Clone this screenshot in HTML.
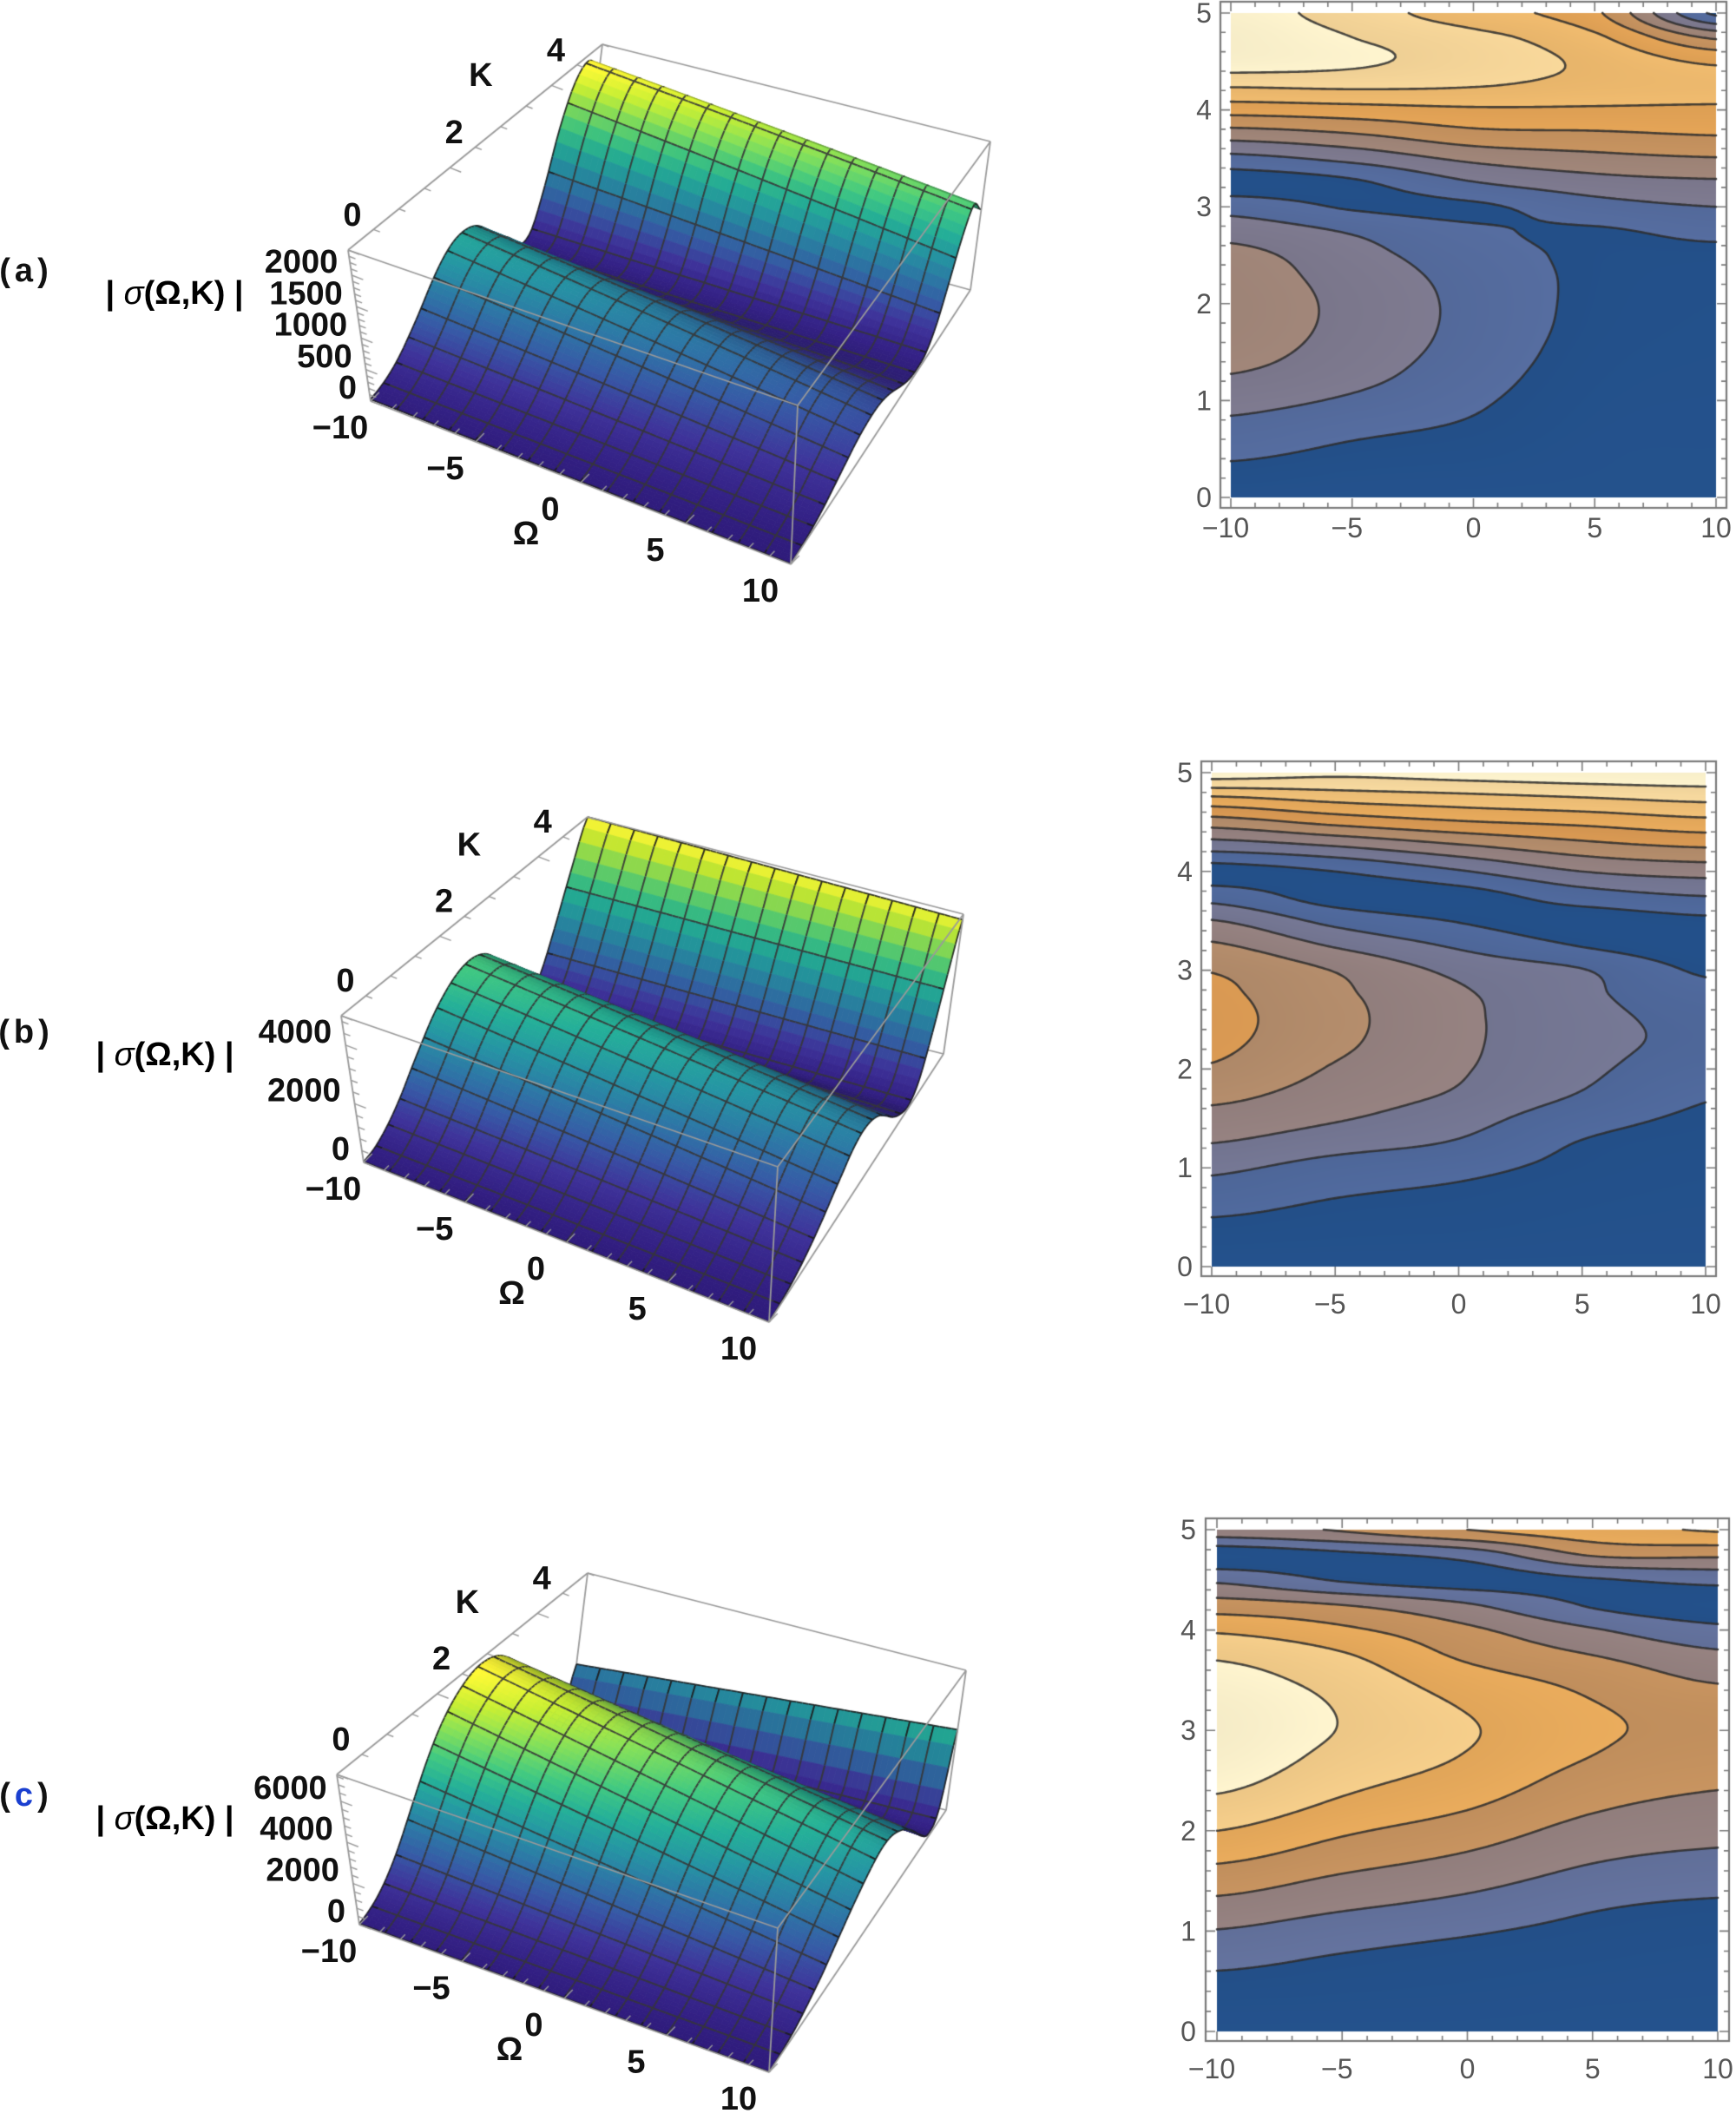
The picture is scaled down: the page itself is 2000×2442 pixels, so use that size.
<!DOCTYPE html>
<html><head><meta charset="utf-8"><title>sigma surfaces and contours</title>
<style>
html,body{margin:0;padding:0;background:#fff;}
#wrap{position:relative;width:2000px;height:2442px;overflow:hidden;background:#fff;}
canvas,svg{position:absolute;left:0;top:0;}
svg text{font-family:"Liberation Sans",Arial,sans-serif;}
</style></head>
<body>
<div id="wrap">
<canvas id="cv" width="2000" height="2442"></canvas>
<svg id="sv" width="2000" height="2442">
 <text x="30" y="312" font-size="38" font-weight="bold" dominant-baseline="central" text-anchor="middle" letter-spacing="5" fill="#111">(a)</text>
 <text x="30" y="1189" font-size="38" font-weight="bold" dominant-baseline="central" text-anchor="middle" letter-spacing="5" fill="#111">(b)</text>
 <text x="30" y="2068" font-size="38" font-weight="bold" dominant-baseline="central" text-anchor="middle" letter-spacing="5" fill="#111">(<tspan fill="#1a3fd0">c</tspan>)</text>
 <text x="201" y="338" font-size="38" font-weight="bold" dominant-baseline="central" text-anchor="middle">| <tspan font-style="italic" font-weight="normal">σ</tspan>(Ω,K) |</text>
 <text x="190" y="1215" font-size="38" font-weight="bold" dominant-baseline="central" text-anchor="middle">| <tspan font-style="italic" font-weight="normal">σ</tspan>(Ω,K) |</text>
 <text x="190" y="2095" font-size="38" font-weight="bold" dominant-baseline="central" text-anchor="middle">| <tspan font-style="italic" font-weight="normal">σ</tspan>(Ω,K) |</text>
 <g id="lbl"></g>
</svg>
</div>
<script>
// ---------- data ----------
const kSamples = [0,0.25,0.5,0.75,1,1.25,1.5,1.75,2,2.25,2.5,2.75,3,3.25,3.5,3.75,4,4.25,4.5,4.75,5];
// 3D surface profiles |sigma| at Omega=-10 and Omega=10
const surfA_left  = [30,60,130,250,420,620,850,1050,1180,1200,1100,850,500,200,60,150,700,1500,2100,2300,2000];
const surfA_right = [10,20,40,80,140,220,300,380,430,450,420,330,200,90,50,100,350,800,1300,1600,1300];
const surfB_left  = [30,100,300,600,1000,1500,2000,2500,2900,3200,3350,3300,3000,2400,1500,600,150,600,1800,3400,5000];
const surfB_right = [10,40,100,200,350,550,800,1100,1400,1700,1850,1800,1550,1100,600,250,100,500,1700,3300,4800];
const surfC_left  = [50,200,500,1000,1700,2600,3600,4600,5500,6200,6700,7000,7000,6700,6000,5000,3800,2300,900,150,2600];
const surfC_right = [20,60,150,300,550,850,1200,1650,2100,2550,2950,3300,3500,3400,3000,2400,1600,700,150,800,4200];
// contour values (in contour-level units) at Omega = -10, -5, 0, 5, 10
const contOmegas = [-10,-5,0,5,10];
const contA_m10 = [0.2,0.7,1.3,1.8,2.35,2.95,3.35,3.55,3.6,3.5,3.3,2.6,1.6,0.5,1.7,3.5,5.4,7.1,8.6,8.8,8.5];
const contA_m5  = [0.1,0.4,0.85,1.3,1.85,2.3,2.55,2.7,2.72,2.6,2.35,1.9,0.9,0.85,2.3,3.95,5.6,7.2,8.2,8.0,7.5];
const contA_0   = [0.1,0.3,0.6,0.9,1.15,1.4,1.6,1.7,1.72,1.65,1.45,1.15,0.85,1.95,3.25,4.7,5.85,7.05,7.5,7.3,6.4];
const contA_5   = [0.1,0.15,0.2,0.3,0.4,0.5,0.6,0.7,0.75,0.78,0.8,0.9,1.6,2.6,3.7,4.85,5.85,6.7,6.8,6.2,5.2];
const contA_10  = [0.1,0.12,0.15,0.2,0.25,0.3,0.35,0.4,0.45,0.5,0.7,1.3,2.0,2.85,3.95,5.05,5.8,6.5,5.8,3.8,0.8];
const contB_m10 = [0.1,0.5,1.0,1.6,2.2,3.0,3.65,4.3,4.9,5.2,5.3,5.2,4.95,4.15,3.05,1.6,0.6,2.4,4.5,6.9,9.5];
const contB_m5  = [0.1,0.4,0.7,1.1,1.6,2.4,3.1,3.55,3.9,4.2,4.3,4.2,3.95,2.9,1.7,0.6,1.0,2.95,5.3,7.4,9.2];
const contB_0   = [0.1,0.35,0.6,0.85,1.25,1.9,2.4,2.9,3.1,3.2,3.22,3.15,2.75,1.85,0.95,0.6,1.9,3.8,5.9,7.7,9.4];
const contB_5   = [0.1,0.25,0.4,0.55,0.75,0.95,1.4,1.95,2.2,2.3,2.3,2.2,2.05,0.95,0.55,1.5,3.0,4.6,6.25,8.0,9.6];
const contB_10  = [0.1,0.2,0.3,0.4,0.5,0.65,0.85,1.1,1.5,1.8,1.75,1.4,0.85,0.45,0.8,2.0,3.4,5.05,6.7,8.3,9.7];
const contC_m10 = [0.1,0.35,0.8,1.3,1.95,2.7,3.45,4.25,5.0,5.7,6.3,6.7,6.9,6.8,6.4,5.85,4.85,3.45,1.8,0.4,2.6];
const contC_m5  = [0.1,0.3,0.6,0.95,1.45,2.15,2.8,3.5,4.15,4.8,5.3,5.7,5.95,5.9,5.6,5.1,4.2,3.0,0.9,0.8,3.1];
const contC_0   = [0.1,0.25,0.45,0.7,1.1,1.7,2.3,2.9,3.5,4.1,4.6,4.95,5.1,4.9,4.45,3.8,3.2,2.1,0.55,1.4,4.0];
const contC_5   = [0.05,0.15,0.3,0.5,0.75,1.1,1.65,2.15,2.65,3.15,3.6,4.0,4.15,4.05,3.7,3.0,2.1,0.9,0.9,3.1,4.6];
const contC_10  = [0.05,0.12,0.2,0.35,0.55,0.85,1.35,1.85,2.3,2.75,3.15,3.55,3.8,3.6,2.9,2.2,1.25,0.4,1.3,3.2,5.1];
const zTicksA = [0,500,1000,1500,2000];
const zTicksB = [0,2000,4000];
const zTicksC = [0,2000,4000,6000];
const omegaTicks = [-10,-5,0,5,10];
const kTicks3d = [0,2,4];
const kTicksContour = [0,1,2,3,4,5];

// ---------- helpers ----------
const cv=document.getElementById('cv'); const ctx=cv.getContext('2d');
ctx.fillStyle='#fff'; ctx.fillRect(0,0,2000,2442);
const SVGNS='http://www.w3.org/2000/svg';
const lbl=document.getElementById('lbl');
function addText(x,y,str,opt,name){
  const t=document.createElementNS(SVGNS,'text');
  t.setAttribute('x',x); t.setAttribute('y',y);
  t.setAttribute('font-size',opt.size); if(opt.bold) t.setAttribute('font-weight','bold');
  t.setAttribute('fill',opt.fill||'#111'); t.setAttribute('text-anchor',opt.anchor||'middle');
  t.setAttribute('dominant-baseline','central');
  
  
  t.textContent=str; lbl.appendChild(t);
}
function crStep(arr,x){
  let i=Math.floor(x);
  if(i>=arr.length-1) return arr[arr.length-1]; if(i<0) return arr[0];
  const t=x-i;
  const p0=arr[Math.max(i-1,0)],p1=arr[i],p2=arr[i+1],p3=arr[Math.min(i+2,arr.length-1)];
  return 0.5*((2*p1)+(-p0+p2)*t+(2*p0-5*p1+4*p2-p3)*t*t+(-p0+3*p1-3*p2+p3)*t*t*t);
}
function cr(arr,K){ const step=kSamples[1]-kSamples[0]; return crStep(arr,(K-kSamples[0])/step); }
function hex(c){return [parseInt(c.substr(1,2),16),parseInt(c.substr(3,2),16),parseInt(c.substr(5,2),16)];}
function ramp(stops,t){
  t=Math.max(0,Math.min(1,t)); const n=stops.length-1; const f=t*n; let i=Math.floor(f); if(i>=n)i=n-1;
  const a=hex(stops[i]),b=hex(stops[i+1]),s=f-i;
  return [a[0]+(b[0]-a[0])*s,a[1]+(b[1]-a[1])*s,a[2]+(b[2]-a[2])*s];
}
const viridis=['#2d1a76','#3a2f8f','#33539a','#2a6f9a','#238a98','#22a38e','#3dbb78','#78cf55','#bade30','#f4e932'];
const contourPal=['#24528d','#5d71a3','#8a7e8a','#b08c70','#e09c50','#efb463','#f8d493','#fff5cf'];

// ---------- contour plots ----------
function drawContour(cfg){
  const {x0,x1,yT,yB,cols,nb}=cfg;
  const W=Math.round(x1-x0), H=Math.round(yB-yT);
  const oStep=contOmegas[1]-contOmegas[0];
  const val=(Om,K)=>{
    const colVals=cols.map(c=>cr(c,K));
    return crStep(colVals,(Om-contOmegas[0])/oStep);
  };
  const img=ctx.createImageData(W,H);
  const bandCol=[]; for(let b=0;b<nb;b++) bandCol.push(ramp(contourPal,b/(nb-1)));
  for(let py=0;py<H;py++){
    const K=5*(1-(py+0.5)/H);
    const colVals=cols.map(c=>cr(c,K));
    for(let px=0;px<W;px++){
      const Om=-10+20*(px+0.5)/W;
      const v=crStep(colVals,(Om-contOmegas[0])/oStep); let b=Math.floor(v); b=Math.max(0,Math.min(nb-1,b));
      const c=bandCol[b]; const frac=Math.max(0,Math.min(1,v-b));
      const sh=1.0-0.04*frac;
      const o=(py*W+px)*4; img.data[o]=c[0]*sh; img.data[o+1]=c[1]*sh; img.data[o+2]=c[2]*sh; img.data[o+3]=255;
    }
  }
  ctx.putImageData(img,Math.round(x0),Math.round(yT));
  const g=3; const nx=Math.ceil(W/g), ny=Math.ceil(H/g);
  const grid=[]; for(let j=0;j<=ny;j++){const r=[];for(let i=0;i<=nx;i++){const px=Math.min(i*g,W),py=Math.min(j*g,H);r.push(val(-10+20*px/W,5*(1-py/H)));}grid.push(r);}
  ctx.save(); ctx.strokeStyle='rgba(45,45,45,0.85)'; ctx.lineWidth=2.6; ctx.lineCap='round';
  for(let lev=1;lev<nb;lev++){
    ctx.beginPath();
    for(let j=0;j<ny;j++)for(let i=0;i<nx;i++){
      const xa=x0+Math.min(i*g,W), xb=x0+Math.min((i+1)*g,W), ya=yT+Math.min(j*g,H), yb=yT+Math.min((j+1)*g,H);
      const v0=grid[j][i],v1=grid[j][i+1],v2=grid[j+1][i+1],v3=grid[j+1][i];
      const pts=[];
      const e=(va,vb,pa,pb)=>{ if((va<lev)!==(vb<lev)){const t=(lev-va)/(vb-va); pts.push([pa[0]+(pb[0]-pa[0])*t,pa[1]+(pb[1]-pa[1])*t]);} };
      e(v0,v1,[xa,ya],[xb,ya]); e(v1,v2,[xb,ya],[xb,yb]); e(v2,v3,[xb,yb],[xa,yb]); e(v3,v0,[xa,yb],[xa,ya]);
      if(pts.length>=2){ctx.moveTo(pts[0][0],pts[0][1]);ctx.lineTo(pts[1][0],pts[1][1]);}
      if(pts.length===4){ctx.moveTo(pts[2][0],pts[2][1]);ctx.lineTo(pts[3][0],pts[3][1]);}
    }
    ctx.stroke();
  }
  ctx.restore();
  const f=cfg.frame; ctx.save(); ctx.strokeStyle='#7a7a7a'; ctx.lineWidth=2.2;
  ctx.strokeRect(f[0],f[1],f[2]-f[0],f[3]-f[1]);
  ctx.lineWidth=1.6; ctx.beginPath();
  const sx=Om=>x0+(Om+10)/20*(x1-x0), sy=K=>yB-K/5*(yB-yT);
  for(let Om=-10;Om<=10;Om++){const L=(Om%5===0)?11:6; const x=sx(Om); ctx.moveTo(x,f[3]);ctx.lineTo(x,f[3]-L);ctx.moveTo(x,f[1]);ctx.lineTo(x,f[1]+L);}
  for(let k=0;k<=25;k++){const K=k*0.2; const L=(k%5===0)?11:6; const y=sy(K); ctx.moveTo(f[0],y);ctx.lineTo(f[0]+L,y);ctx.moveTo(f[2],y);ctx.lineTo(f[2]-L,y);}
  ctx.stroke(); ctx.restore();
  omegaTicks.forEach(o=>addText(sx(o)+(o<0?-6:0),cfg.xlabY,(o<0?'\u2212':'')+Math.abs(o),{size:32,fill:'#555'},'x-tick-label-'+cfg.id));
  kTicksContour.forEach(k=>addText(cfg.ylabX,sy(k),String(k),{size:32,fill:'#555'},'y-tick-label-'+cfg.id));
}

// ---------- 3D plots ----------
function draw3D(cfg){
  const C=cfg.c;
  const proj=(u,v,w)=>{
    let x=0,y=0;
    for(const a of [0,1])for(const b of [0,1])for(const d of [0,1]){
      const wt=(a?u:1-u)*(b?v:1-v)*(d?w:1-w); const p=C[''+a+b+d]; x+=wt*p[0]; y+=wt*p[1];
    }
    return [x,y];
  };
  const zf=(u,K)=>Math.max(0,(1-u)*cr(cfg.left,K)+u*cr(cfg.right,K));
  const edge=(p,q)=>{const A=C[p],B=C[q];ctx.moveTo(A[0],A[1]);ctx.lineTo(B[0],B[1]);};
  ctx.save(); ctx.strokeStyle='#9a9a9a'; ctx.lineWidth=1.8; ctx.beginPath();
  edge('000','010'); edge('010','011'); edge('010','110'); ctx.stroke(); ctx.restore();
  const nu=64,nv=80; const Z=[],Pt=[]; let zmaxD=0;
  for(let i=0;i<=nu;i++){Z.push([]);Pt.push([]);for(let j=0;j<=nv;j++){const z=zf(i/nu,5*j/nv);Z[i].push(z);if(z>zmaxD)zmaxD=z;Pt[i].push(proj(i/nu,j/nv,z/cfg.zmax));}}
  const quads=[];
  for(let i=0;i<nu;i++)for(let j=0;j<nv;j++){quads.push([proj((i+.5)/nu,(j+.5)/nv,0)[1],i,j]);}
  quads.sort((a,b)=>a[0]-b[0]);
  const L=[0.2,-0.6,0.75]; const ln=Math.hypot(...L);
  ctx.save(); ctx.lineJoin='round';
  for(const q of quads){
    const i=q[1],j=q[2];
    const z00=Z[i][j],z10=Z[i+1][j],z11=Z[i+1][j+1],z01=Z[i][j+1];
    const zAvg=(z00+z10+z11+z01)/4;
    const dzu=((z10+z11)-(z00+z01))/2/cfg.zmax*0.6*nu, dzv=((z01+z11)-(z00+z10))/2/cfg.zmax*0.6*nv;
    const n=[-dzu,-dzv,1]; const nn=Math.hypot(...n);
    const dot=(n[0]*L[0]+n[1]*L[1]+n[2]*L[2])/(nn*ln);
    const sh=Math.min(1.08,0.72+0.4*Math.max(0,dot));
    const c=ramp(viridis,zAvg/zmaxD);
    const col='rgb('+Math.min(255,c[0]*sh|0)+','+Math.min(255,c[1]*sh|0)+','+Math.min(255,c[2]*sh|0)+')';
    const a=Pt[i][j],b=Pt[i+1][j],d=Pt[i+1][j+1],e=Pt[i][j+1];
    ctx.beginPath(); ctx.moveTo(a[0],a[1]);ctx.lineTo(b[0],b[1]);ctx.lineTo(d[0],d[1]);ctx.lineTo(e[0],e[1]);ctx.closePath();
    ctx.fillStyle=col; ctx.fill(); ctx.strokeStyle=col; ctx.lineWidth=0.8; ctx.stroke();
    ctx.beginPath(); ctx.strokeStyle='rgba(55,55,55,0.9)'; ctx.lineWidth=1.8;
    if(i%4===0){ctx.moveTo(a[0],a[1]);ctx.lineTo(e[0],e[1]);}
    if((i+1)%4===0){ctx.moveTo(b[0],b[1]);ctx.lineTo(d[0],d[1]);}
    if(j%5===0){ctx.moveTo(a[0],a[1]);ctx.lineTo(b[0],b[1]);}
    if((j+1)%5===0){ctx.moveTo(e[0],e[1]);ctx.lineTo(d[0],d[1]);}
    if(i===0||i===nu-1||j===0||j===nv-1){ctx.strokeStyle='rgba(30,30,30,0.9)';}
    ctx.stroke();
  }
  ctx.restore();
  ctx.save(); ctx.strokeStyle='#9a9a9a'; ctx.lineWidth=1.8; ctx.beginPath();
  edge('000','100'); edge('000','001'); edge('100','101'); edge('001','101'); edge('001','011');
  edge('011','111'); edge('101','111'); edge('100','110'); edge('110','111');
  ctx.stroke();
  ctx.lineWidth=1.4; ctx.beginPath();
  const zs=cfg.zTicks[1]-cfg.zTicks[0];
  for(let z=0;z<=cfg.zmax;z+=zs/5){const p=proj(0,0,z/cfg.zmax);const m=(Math.abs(z/zs-Math.round(z/zs))<1e-6)?14:8;ctx.moveTo(p[0],p[1]);ctx.lineTo(p[0]+m*0.93,p[1]+m*0.36);}
  for(let o=-10;o<=10;o++){const p=proj((o+10)/20,0,0);const m=(o%5===0)?14:8;ctx.moveTo(p[0],p[1]);ctx.lineTo(p[0]+m*0.7,p[1]-m*0.72);}
  for(let k=0;k<=5;k+=0.5){const p=proj(0,k/5,1);const m=(k%2===0)?14:8;ctx.moveTo(p[0],p[1]);ctx.lineTo(p[0]+m*0.93,p[1]+m*0.36);}
  ctx.stroke(); ctx.restore();
  cfg.zTicks.forEach(z=>{const p=proj(0,0,z/cfg.zmax);addText(p[0]-16,p[1]-15,String(z),{size:38,bold:true,anchor:'end'},'z-tick-label-'+cfg.id);});
  omegaTicks.forEach(o=>{const p=proj((o+10)/20,0,0);addText(p[0]-35,p[1]+31,(o<0?'\u2212':'')+Math.abs(o),{size:38,bold:true},'omega-tick-label-'+cfg.id);});
  kTicks3d.forEach(k=>{const p=proj(0,k/5,1);addText(p[0]+5,p[1]-40,String(k),{size:38,bold:true},'k-tick-label-'+cfg.id);});
  let p=proj(0.5,0,0); addText(p[0]-63,p[1]+59,'\u03A9',{size:38,bold:true},'omega-axis-title-'+cfg.id);
  p=proj(0,0.6,1); addText(p[0]-23,p[1]-59,'K',{size:38,bold:true},'k-axis-title-'+cfg.id);
}

draw3D({id:'a',zmax:2400,zTicks:zTicksA,left:surfA_left,right:surfA_right,
 c:{'000':[427,462],'100':[911,650],'001':[401,288],'101':[919,467],'011':[694,51],'111':[1141,163],'110':[1118,334],'010':[674,211]}});
draw3D({id:'b',zmax:5000,zTicks:zTicksB,left:surfB_left,right:surfB_right,
 c:{'000':[419,1339],'100':[886,1523],'001':[393,1170],'101':[896,1344],'011':[677,941],'111':[1110,1053],'110':[1087,1214],'010':[657,1106]}});
draw3D({id:'c',zmax:7300,zTicks:zTicksC,left:surfC_left,right:surfC_right,
 c:{'000':[414,2217],'100':[886,2387],'001':[388,2044],'101':[896,2221],'011':[677,1812],'111':[1113,1924],'110':[1090,2085],'010':[657,1975]}});

drawContour({id:'a',x0:1418,x1:1977,yT:15,yB:573,cols:[contA_m10,contA_m5,contA_0,contA_5,contA_10],nb:9,frame:[1406,2,1989,585],xlabY:608,ylabX:1387});
drawContour({id:'b',x0:1396,x1:1965,yT:890,yB:1459,cols:[contB_m10,contB_m5,contB_0,contB_5,contB_10],nb:10,frame:[1384,877,1977,1470],xlabY:1502,ylabX:1365});
drawContour({id:'c',x0:1402,x1:1979,yT:1762,yB:2340,cols:[contC_m10,contC_m5,contC_0,contC_5,contC_10],nb:7,frame:[1389,1749,1992,2351],xlabY:2383,ylabX:1369});
</script>
</body></html>
